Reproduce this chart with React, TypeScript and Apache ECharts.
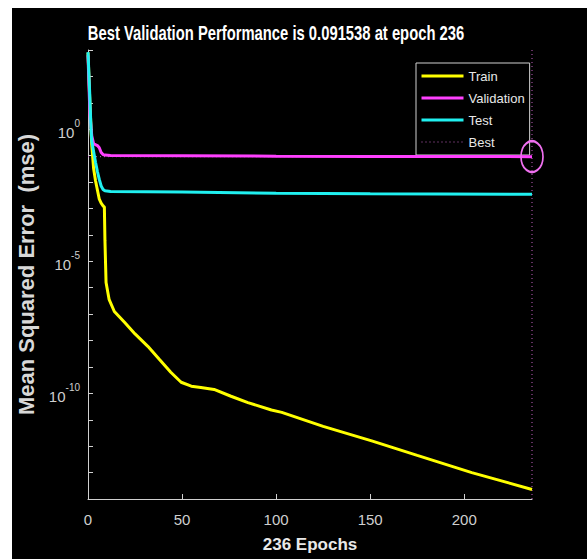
import React, { useEffect, useRef } from "react";
import * as echarts from "echarts";

// epochs and log10(mse) values
const trainEpochs = [0, 1, 2, 3, 4, 5, 6, 7, 8, 8.7, 9, 9.6, 11.2, 14, 19.4, 25, 31.8, 38, 44, 49.5, 54.9, 60, 67, 76, 85, 97.5, 103, 125, 150.8, 175, 204, 236];
const trainLogMse = [2.9, 1.0, -0.6, -1.5, -1.95, -2.3, -2.65, -2.8, -2.9, -2.95, -4.2, -5.8, -6.44, -6.9, -7.31, -7.75, -8.22, -8.72, -9.2, -9.58, -9.73, -9.78, -9.85, -10.11, -10.35, -10.63, -10.72, -11.25, -11.8, -12.35, -13.0, -13.64];

const valEpochs = [0, 1, 2, 3, 5, 6, 7, 8, 9, 12, 50, 100, 150, 200, 236];
const valLogMse = [2.8, 0.6, -0.25, -0.55, -0.62, -0.7, -0.88, -0.96, -0.98, -0.99, -1.0, -1.02, -1.03, -1.035, -1.038];

const testEpochs = [0, 1, 1.6, 2, 3, 4, 5, 6, 7, 8, 9, 12, 50, 100, 150, 236];
const testLogMse = [2.92, 1.2, 0.0, -0.45, -0.85, -1.25, -1.6, -1.9, -2.15, -2.28, -2.33, -2.36, -2.38, -2.42, -2.44, -2.46];

const bestEpoch = 236;
const bestPerf = 0.091538;

const xTicks = [0, 50, 100, 150, 200];
const yTicks = [-14, -13, -12, -11, -10, -9, -8, -7, -6, -5, -4, -3, -2, -1, 0, 1, 2, 3];
const yLabels = [0, -5, -10];

const FONT = "'Liberation Sans', Arial, Helvetica, sans-serif";

const zip = (xs: number[], ys: number[]) => xs.map((x, i) => [x, ys[i]]);

export default function App() {
  const ref = useRef<HTMLDivElement>(null);
  useEffect(() => {
    if (!ref.current) return;
    const chart = echarts.init(ref.current, null, { renderer: "svg" });
    const bestLog = Math.log10(bestPerf);
    chart.setOption({
      animation: false,
      backgroundColor: "#000",
      graphic: [
        {
          type: "text",
          x: 264,
          y: 25,
          scaleX: 0.74,
          style: {
            text: `Best Validation Performance is ${bestPerf} at epoch ${bestEpoch}`,
            fill: "#ffffff",
            font: `bold 20px ${FONT}`,
            align: "center",
            verticalAlign: "middle",
          },
        },
      ],
      grid: { left: 76, right: 55, top: 42, bottom: 60, outerBoundsMode: "none", containLabel: false },
      legend: {
        orient: "vertical",
        left: 404,
        top: 55,
        padding: [6, 5, 6, 4],
        itemWidth: 42,
        itemHeight: 14,
        itemGap: 8,
        borderColor: "#d0d0d0",
        borderWidth: 1,
        backgroundColor: "#000",
        itemStyle: { opacity: 0 },
        lineStyle: { width: 3 },
        textStyle: { color: "#e8e8e8", fontFamily: FONT, fontSize: 13, lineHeight: 14 },
        data: [
          { name: "Train" },
          { name: "Validation" },
          { name: "Test" },
          { name: "Best", lineStyle: { width: 1 } },
        ],
      },
      xAxis: {
        type: "value",
        min: 0,
        max: bestEpoch,
        name: `${bestEpoch} Epochs`,
        nameLocation: "middle",
        nameGap: 37,
        nameTextStyle: { color: "#e8e8e8", fontFamily: FONT, fontSize: 17, fontWeight: "bold", verticalAlign: "top" },
        axisLine: { onZero: false, lineStyle: { color: "#d0d0d0", width: 1 } },
        axisTick: { inside: true, length: 5, customValues: xTicks, lineStyle: { color: "#d0d0d0" } },
        axisLabel: { customValues: xTicks, color: "#cfcfcf", fontFamily: FONT, fontSize: 15, margin: 13 },
        splitLine: { show: false },
      },
      yAxis: {
        type: "value",
        min: -14,
        max: 3,
        name: "Mean Squared Error  (mse)",
        nameLocation: "middle",
        nameGap: 31,
        nameTextStyle: { color: "#d8d8d8", fontFamily: FONT, fontSize: 22, fontWeight: "bold" },
        axisLine: { onZero: false, lineStyle: { color: "#d0d0d0", width: 1 } },
        axisTick: { inside: true, length: 5, customValues: yTicks, lineStyle: { color: "#d0d0d0" } },
        axisLabel: {
          customValues: yLabels,
          margin: 8,
          formatter: (v: number) => `{b|10}{s|${v}}`,
          rich: {
            b: { color: "#cfcfcf", fontFamily: FONT, fontSize: 15, lineHeight: 22, verticalAlign: "bottom" },
            s: { color: "#cfcfcf", fontFamily: FONT, fontSize: 10, lineHeight: 12, verticalAlign: "top" },
          },
        },
        splitLine: { show: false },
      },
      series: [
        {
          name: "Train",
          type: "line",
          symbol: "none",
          data: zip(trainEpochs, trainLogMse),
          lineStyle: { color: "#ffff00", width: 3 },
          itemStyle: { color: "#ffff00" },
          z: 3,
        },
        {
          name: "Validation",
          type: "line",
          symbol: "none",
          data: zip(valEpochs, valLogMse),
          lineStyle: { color: "#ff40ff", width: 3 },
          itemStyle: { color: "#ff40ff" },
          z: 4,
        },
        {
          name: "Test",
          type: "line",
          symbol: "none",
          data: zip(testEpochs, testLogMse),
          lineStyle: { color: "#20f0f0", width: 3 },
          itemStyle: { color: "#20f0f0" },
          z: 5,
        },
        {
          name: "Best",
          type: "line",
          symbol: "none",
          data: [[bestEpoch, -14], [bestEpoch, 3]],
          lineStyle: { color: "#c060c0", width: 1, type: [1, 3] },
          itemStyle: { color: "#c060c0" },
          z: 2,
        },
        {
          name: "bestH",
          type: "line",
          symbol: "none",
          data: [[0, bestLog], [bestEpoch, bestLog]],
          lineStyle: { color: "#c060c0", width: 1, type: [1, 3] },
          z: 2,
        },
        {
          name: "bestMark",
          type: "scatter",
          symbol: "circle",
          symbolSize: [22, 31],
          data: [[bestEpoch, bestLog]],
          itemStyle: { color: "rgba(0,0,0,0)", borderColor: "#f070f0", borderWidth: 2, opacity: 1 },
          z: 6,
        },
      ],
    });
    return () => chart.dispose();
  }, []);
  return (
    <div style={{ position: "fixed", left: 0, top: 0, width: 587, height: 559, background: "#fff" }}>
      <div ref={ref} style={{ position: "absolute", left: 12, top: 8, width: 575, height: 551 }} />
    </div>
  );
}
